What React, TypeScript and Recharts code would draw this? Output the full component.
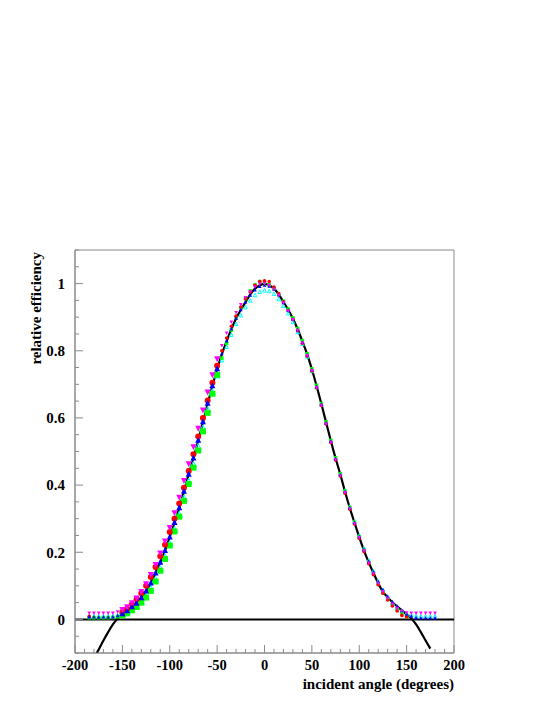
import React from "react";
import { ComposedChart, Line, Scatter, XAxis, YAxis, ReferenceLine, ReferenceArea } from "recharts";

// incident angles of the measured points (degrees)
const angles = [
  -185, -180, -175, -170, -165, -160, -155, -150, -145, -140,
  -135, -130, -125, -120, -115, -110, -105, -100, -95, -90,
  -85, -80, -75, -70, -65, -60, -55, -50, -45, -40,
  -35, -30, -25, -20, -15, -10, -5, 0, 5, 10,
  15, 20, 25, 30, 35, 40, 45, 50, 55, 60,
  65, 70, 75, 80, 85, 90, 95, 100, 105, 110,
  115, 120, 125, 130, 135, 140, 145, 150, 155, 160,
  165, 170, 175, 180,
];

const redValues = [
  0.009, null, null, null, null, null, null, 0.022, 0.032, 0.045,
  0.060, 0.078, 0.100, 0.126, 0.156, 0.188, 0.222, 0.260, 0.300, 0.345,
  0.392, 0.442, 0.492, 0.545, 0.600, 0.652, 0.705, 0.755, 0.800, 0.838,
  0.873, 0.903, 0.930, 0.955, 0.975, 0.995, 1.006, 1.008, 1.006, 0.990,
  0.970, 0.946, 0.920, 0.893, 0.860, 0.822, 0.784, 0.740, 0.690, 0.637,
  0.582, 0.527, 0.475, 0.427, 0.376, 0.328, 0.284, 0.241, 0.202, 0.166,
  0.133, 0.103, 0.078, 0.058, 0.040, 0.025, 0.012, 0.008, null, null,
  null, null, null, null,
];

const greenValues = [
  0.005, 0.005, 0.005, 0.005, 0.005, 0.006, 0.008, 0.012, 0.018, 0.027,
  0.037, 0.050, 0.065, 0.085, 0.113, 0.145, 0.180, 0.220, 0.262, 0.306,
  0.353, 0.403, 0.452, 0.503, 0.560, 0.615, 0.672, 0.728, 0.778, 0.822,
  0.862, 0.898, 0.928, 0.955, 0.978, 0.996, 1.006, 1.004, 0.996, 0.985,
  0.968, 0.947, 0.924, 0.898, 0.866, 0.830, 0.791, 0.746, 0.697, 0.643,
  0.588, 0.533, 0.481, 0.433, 0.382, 0.333, 0.289, 0.246, 0.206, 0.170,
  0.137, 0.106, 0.080, 0.060, 0.043, 0.030, 0.018, 0.010, null, null,
  null, null, null, null,
];

const blueValues = [
  0.008, 0.008, 0.007, 0.008, 0.007, 0.008, 0.012, 0.018, 0.027, 0.039,
  0.050, 0.066, 0.086, 0.110, 0.140, 0.172, 0.207, 0.247, 0.290, 0.334,
  0.383, 0.434, 0.482, 0.535, 0.590, 0.645, 0.697, 0.748, 0.792, 0.830,
  0.866, 0.897, 0.923, 0.946, 0.966, 0.982, 0.992, 0.996, 0.993, 0.984,
  0.967, 0.944, 0.921, 0.895, 0.863, 0.826, 0.788, 0.744, 0.694, 0.641,
  0.586, 0.531, 0.479, 0.431, 0.381, 0.333, 0.289, 0.247, 0.208, 0.173,
  0.142, 0.113, 0.089, 0.069, 0.053, 0.040, 0.027, 0.017, 0.010, 0.006,
  0.005, 0.005, 0.005, 0.005,
];

const magentaValues = [
  0.018, 0.018, 0.018, 0.018, 0.018, 0.018, 0.022, 0.028, 0.036, 0.048,
  0.062, 0.082, 0.105, 0.132, 0.162, 0.196, 0.232, 0.272, 0.316, 0.362,
  0.412, 0.462, 0.513, 0.568, 0.622, 0.676, 0.727, 0.775, 0.815, 0.852,
  0.885, 0.913, 0.937, 0.958, 0.975, 0.990, 0.998, 1.000, 0.994, 0.982,
  0.964, 0.942, 0.918, 0.892, 0.860, 0.823, 0.785, 0.740, 0.690, 0.637,
  0.582, 0.527, 0.475, 0.427, 0.377, 0.329, 0.285, 0.243, 0.204, 0.168,
  0.136, 0.107, 0.082, 0.062, 0.045, 0.032, 0.024, 0.019, 0.018, 0.018,
  0.018, 0.018, 0.018, 0.018,
];

const cyanValues = [
  0.010, 0.010, 0.010, 0.010, 0.010, 0.010, 0.012, 0.016, 0.022, 0.030,
  0.040, 0.053, 0.070, 0.092, 0.120, 0.152, 0.187, 0.226, 0.268, 0.313,
  0.362, 0.412, 0.462, 0.515, 0.570, 0.625, 0.678, 0.728, 0.772, 0.812,
  0.848, 0.880, 0.906, 0.930, 0.950, 0.966, 0.976, 0.980, 0.978, 0.970,
  0.954, 0.934, 0.912, 0.886, 0.856, 0.821, 0.783, 0.740, 0.692, 0.640,
  0.586, 0.532, 0.481, 0.434, 0.384, 0.336, 0.292, 0.250, 0.211, 0.176,
  0.144, 0.114, 0.088, 0.068, 0.050, 0.036, 0.026, 0.018, 0.013, 0.010,
  0.010, 0.010, 0.010, 0.010,
];

// fitted response curve
const fitAngles = [
  -180, -175, -170, -165, -160, -155, -150, -145, -140, -135,
  -130, -125, -120, -115, -110, -105, -100, -95, -90, -85,
  -80, -75, -70, -65, -60, -55, -50, -45, -40, -35,
  -30, -25, -20, -15, -10, -5, 0, 5, 10, 15,
  20, 25, 30, 35, 40, 45, 50, 55, 60, 65,
  70, 75, 80, 85, 90, 95, 100, 105, 110, 115,
  120, 125, 130, 135, 140, 145, 150, 155, 160, 165,
  170, 175,
];
const fitValues = [
  -0.115, -0.090, -0.063, -0.038, -0.015, 0.003, 0.015, 0.027, 0.039, 0.051,
  0.066, 0.082, 0.108, 0.138, 0.170, 0.205, 0.245, 0.288, 0.332, 0.380,
  0.432, 0.480, 0.532, 0.587, 0.642, 0.695, 0.745, 0.790, 0.828, 0.864,
  0.896, 0.922, 0.945, 0.968, 0.985, 0.995, 1.000, 0.995, 0.985, 0.968,
  0.945, 0.922, 0.896, 0.864, 0.828, 0.790, 0.745, 0.695, 0.642, 0.587,
  0.532, 0.480, 0.432, 0.380, 0.332, 0.288, 0.245, 0.205, 0.170, 0.138,
  0.108, 0.082, 0.066, 0.051, 0.039, 0.027, 0.015, 0.003, -0.015, -0.038,
  -0.063, -0.087,
];

const xTicks = [
  -200, -190, -180, -170, -160, -150, -140, -130, -120, -110,
  -100, -90, -80, -70, -60, -50, -40, -30, -20, -10,
  0, 10, 20, 30, 40, 50, 60, 70, 80, 90,
  100, 110, 120, 130, 140, 150, 160, 170, 180, 190, 200,
];
const xLabels = [-200, -150, -100, -50, 0, 50, 100, 150, 200];
const yTicks = [
  -0.1, -0.05, 0, 0.05, 0.1, 0.15, 0.2, 0.25, 0.3, 0.35, 0.4, 0.45,
  0.5, 0.55, 0.6, 0.65, 0.7, 0.75, 0.8, 0.85, 0.9, 0.95, 1, 1.05, 1.1,
];
const yLabels = [0, 0.2, 0.4, 0.6, 0.8, 1];

const toPoints = (vals: (number | null)[]) =>
  angles
    .map((a, i) => ({ x: a, y: vals[i] }))
    .filter((p) => p.y !== null);

const fitData = fitAngles.map((a, i) => ({ x: a, y: fitValues[i] }));

const FRAME = "#8a8a8a";
const FONT = "'Liberation Serif', 'Times New Roman', serif";

const makeMarker = (kind: string, color: string) => (props: any) => {
  const { cx, cy, payload } = props;
  if (cx == null || cy == null) return <g />;
  // points on the rising side are drawn bigger, as in the original
  const r = payload.x <= -50 && payload.x >= -150 ? 3 : 1.8;
  if (kind === "circle") return <circle cx={cx} cy={cy} r={r} fill={color} />;
  if (kind === "square")
    return <rect x={cx - r} y={cy - r} width={2 * r} height={2 * r} fill={color} />;
  if (kind === "up")
    return (
      <polygon
        points={`${cx - r},${cy + r} ${cx + r},${cy + r} ${cx},${cy - r}`}
        fill={color}
      />
    );
  if (kind === "down")
    return (
      <polygon
        points={`${cx - r},${cy - r} ${cx + r},${cy - r} ${cx},${cy + r}`}
        fill={color}
      />
    );
  return (
    <polygon
      points={`${cx - r},${cy + r} ${cx + r},${cy + r} ${cx},${cy - r}`}
      fill="none"
      stroke={color}
      strokeWidth={1}
    />
  );
};

const XTick = (props: any) => {
  const { x, y, payload } = props;
  const major = xLabels.includes(payload.value);
  return (
    <g>
      <line x1={x} y1={y} x2={x} y2={y - (major ? 8 : 4)} stroke={FRAME} />
      {major && (
        <text
          x={x}
          y={y + 17}
          textAnchor="middle"
          fontFamily={FONT}
          fontWeight="bold"
          fontSize={14.5}
          fill="#000"
        >
          {payload.value}
        </text>
      )}
    </g>
  );
};

const YTick = (props: any) => {
  const { x, y, payload } = props;
  const major = yLabels.some((v) => Math.abs(v - payload.value) < 1e-6);
  return (
    <g>
      <line x1={x} y1={y} x2={x + (major ? 8 : 4)} y2={y} stroke={FRAME} />
      {major && (
        <text
          x={x - 10}
          y={y}
          dy="0.35em"
          textAnchor="end"
          fontFamily={FONT}
          fontWeight="bold"
          fontSize={15}
          fill="#000"
        >
          {payload.value}
        </text>
      )}
    </g>
  );
};

export default function App() {
  return (
    <div style={{ position: "absolute", left: 0, top: 0, width: 545, height: 705, background: "#fff" }}>
      <ComposedChart
        width={545}
        height={705}
        margin={{ top: 250, right: 91, bottom: 0, left: 0 }}
      >
        <XAxis
          type="number"
          dataKey="x"
          domain={[-200, 200]}
          ticks={xTicks}
          interval={0}
          allowDataOverflow
          height={52}
          tickSize={0}
          tickMargin={0}
          tickLine={false}
          axisLine={{ stroke: FRAME }}
          tick={<XTick />}
        />
        <YAxis
          type="number"
          dataKey="y"
          domain={[-0.1, 1.1]}
          ticks={yTicks}
          interval={0}
          allowDataOverflow
          width={75}
          tickSize={0}
          tickMargin={0}
          tickLine={false}
          axisLine={{ stroke: FRAME }}
          tick={<YTick />}
        />
        <ReferenceArea
          x1={-200}
          x2={200}
          y1={-0.1}
          y2={1.1}
          fill="none"
          fillOpacity={0}
          stroke={FRAME}
          strokeWidth={1}
        />
        <ReferenceLine y={0} stroke="#000" strokeWidth={2} />
        <Scatter data={toPoints(cyanValues)} dataKey="y" shape={makeMarker("open", "#00ffff")} isAnimationActive={false} />
        <Scatter data={toPoints(greenValues)} dataKey="y" shape={makeMarker("square", "#00ff00")} isAnimationActive={false} />
        <Scatter data={toPoints(redValues)} dataKey="y" shape={makeMarker("circle", "#ff0000")} isAnimationActive={false} />
        <Scatter data={toPoints(blueValues)} dataKey="y" shape={makeMarker("up", "#0000ff")} isAnimationActive={false} />
        <Scatter data={toPoints(magentaValues)} dataKey="y" shape={makeMarker("down", "#ff00ff")} isAnimationActive={false} />
        <Line
          data={fitData}
          dataKey="y"
          type="monotone"
          stroke="#000"
          strokeWidth={2.2}
          dot={false}
          activeDot={false}
          isAnimationActive={false}
        />
        <text
          x={454}
          y={689}
          textAnchor="end"
          fontFamily={FONT}
          fontWeight="bold"
          fontSize={15}
          fill="#000"
        >
          incident angle (degrees)
        </text>
        <text
          x={41}
          y={252}
          textAnchor="end"
          transform="rotate(-90, 41, 252)"
          fontFamily={FONT}
          fontWeight="bold"
          fontSize={15}
          fill="#000"
        >
          relative efficiency
        </text>
      </ComposedChart>
    </div>
  );
}
